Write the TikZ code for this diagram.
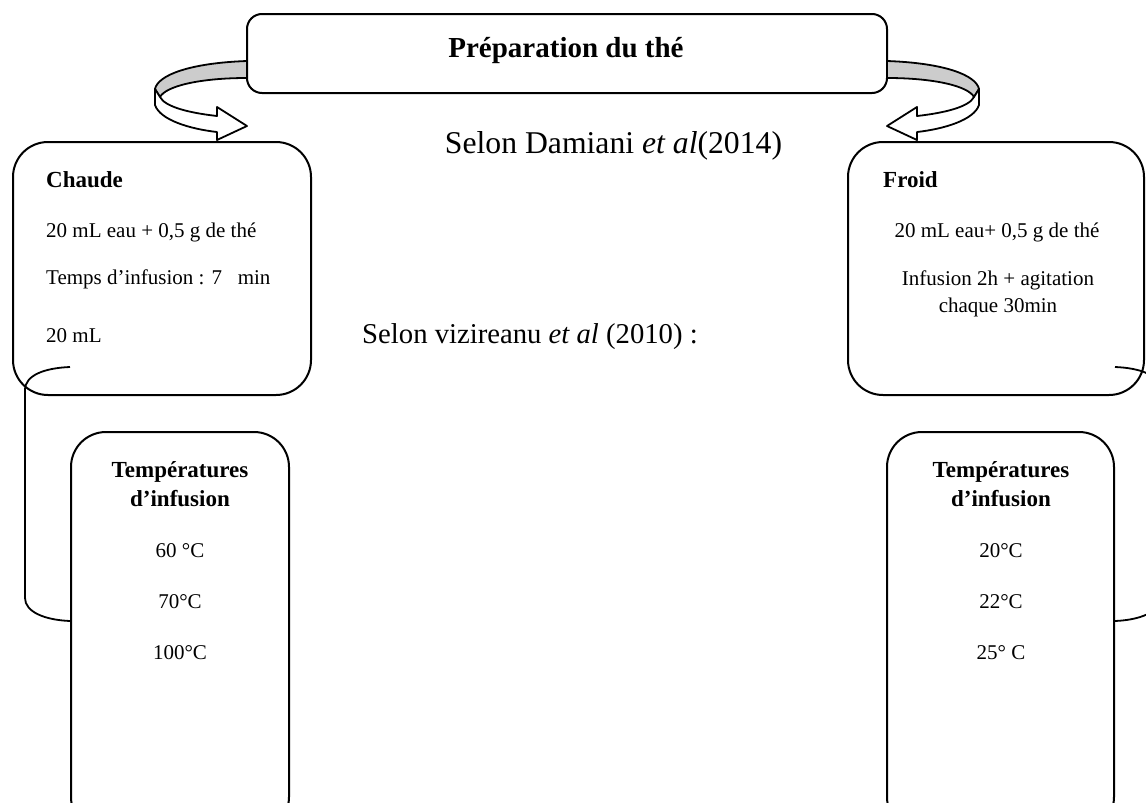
\documentclass[tikz,border=0pt]{standalone}
\usepackage{fontspec}
\setmainfont{Liberation Serif}
\newcommand{\txt}{\fontsize{21}{25}\selectfont}
\newcommand{\hd}{\fontsize{23}{27}\selectfont\bfseries}
\tikzset{
  bloc/.style={draw,line width=2pt,rounded corners=35pt,inner sep=0pt},
  lbl/.style={anchor=base,inner sep=0pt,font=\txt},
  tete/.style={anchor=base,inner sep=0pt,font=\hd},
  trait/.style={line width=1.8pt,line join=round},
}

\begin{document}
\begin{tikzpicture}[x=1pt,y=-1pt]
\useasboundingbox (0,0) rectangle (1146,803);
\clip (0,0) rectangle (1146,803);
% boites
\node[bloc,rounded corners=15pt,minimum width=640pt,minimum height=79pt] (prep) at (567,53.5) {};
\node[bloc,minimum width=298pt,minimum height=253pt] (chaude) at (162,268.5) {};
\node[bloc,minimum width=296pt,minimum height=253pt] (froid) at (996,268.5) {};
\node[bloc,minimum width=218pt,minimum height=400pt] (tempc) at (180,632) {};
\node[bloc,minimum width=227pt,minimum height=400pt] (tempf) at (1000.5,632) {};
% fleches courbes
\foreach \s/\d in {1/0,-1/1134}{
\begin{scope}[xshift=\d pt,xscale=\s]
\path[trait,draw,fill=black!20] (247,61) .. controls (190,63) and (158,75) .. (155,89)
  -- (160,97) .. controls (166,86) and (200,78) .. (247,78) -- cycle;
\path[trait,draw,fill=white] (155,89) -- (155,105) .. controls (160,120) and (190,129) .. (217,132)
  -- (217,140) -- (247,126) -- (217,107) -- (217,116) .. controls (190,113) and (165,107) .. (160,97) -- cycle;
\end{scope}}
% accolades
\coordinate (ca) at (tempc.west |- 0,367);
\coordinate (cb) at (tempc.west |- 0,621);
\coordinate (fa) at (tempf.east |- 0,367);
\coordinate (fb) at (tempf.east |- 0,621);
\draw[trait] (ca) .. controls (45,368) and (25,375) .. (25,390) -- (25,598) .. controls (25,612) and (45,620) .. (cb);
\draw[trait] (fa) .. controls (1140,368) and (1160,375) .. (1160,390) -- (1160,598) .. controls (1160,612) and (1140,620) .. (fb);
% textes
\node[anchor=base,inner sep=0pt,font=\fontsize{29}{33}\selectfont\bfseries] (titre) at (566,57) {Préparation du thé};
\node[lbl,font=\fontsize{31.7}{36}\selectfont] (damiani) at (613.5,153) {Selon Damiani \textit{et al}(2014)};
\node[lbl,font=\fontsize{28.7}{33}\selectfont] (vizi) at (530,343) {Selon vizireanu \textit{et al} (2010) :};
\node[tete,anchor=base west] (c0) at (46,187) {Chaude};
\node[lbl,anchor=base west] (c1) at (46,237) {20 mL eau + 0,5 g de thé};
\node[lbl,anchor=base west] (c2) at (46,284) {Temps d’infusion : 7\ \ \ min};
\node[lbl,anchor=base west] (c3) at (46,342) {20 mL};
\node[tete,anchor=base west] (f0) at (883,187) {Froid};
\node[lbl] (f1) at (997,237) {20 mL eau+ 0,5 g de thé};
\node[lbl] (f2) at (998,285) {Infusion 2h + agitation};
\node[lbl] (f3) at (998,312) {chaque 30min};
\node[tete] (tc1) at (180,477) {Températures};
\node[tete] (tc2) at (180,506) {d’infusion};
\node[tete] (tf1) at (1001,477) {Températures};
\node[tete] (tf2) at (1001,506) {d’infusion};
\foreach \t [count=\i] in {60 °C,70°C,100°C}
  \node[lbl] (tc\i\i) at (180,{557+51*(\i-1)}) {\t};
\foreach \t [count=\i] in {20°C,22°C,25° C}
  \node[lbl] (tf\i\i) at (1001,{557+51*(\i-1)}) {\t};
\end{tikzpicture}
\end{document}
